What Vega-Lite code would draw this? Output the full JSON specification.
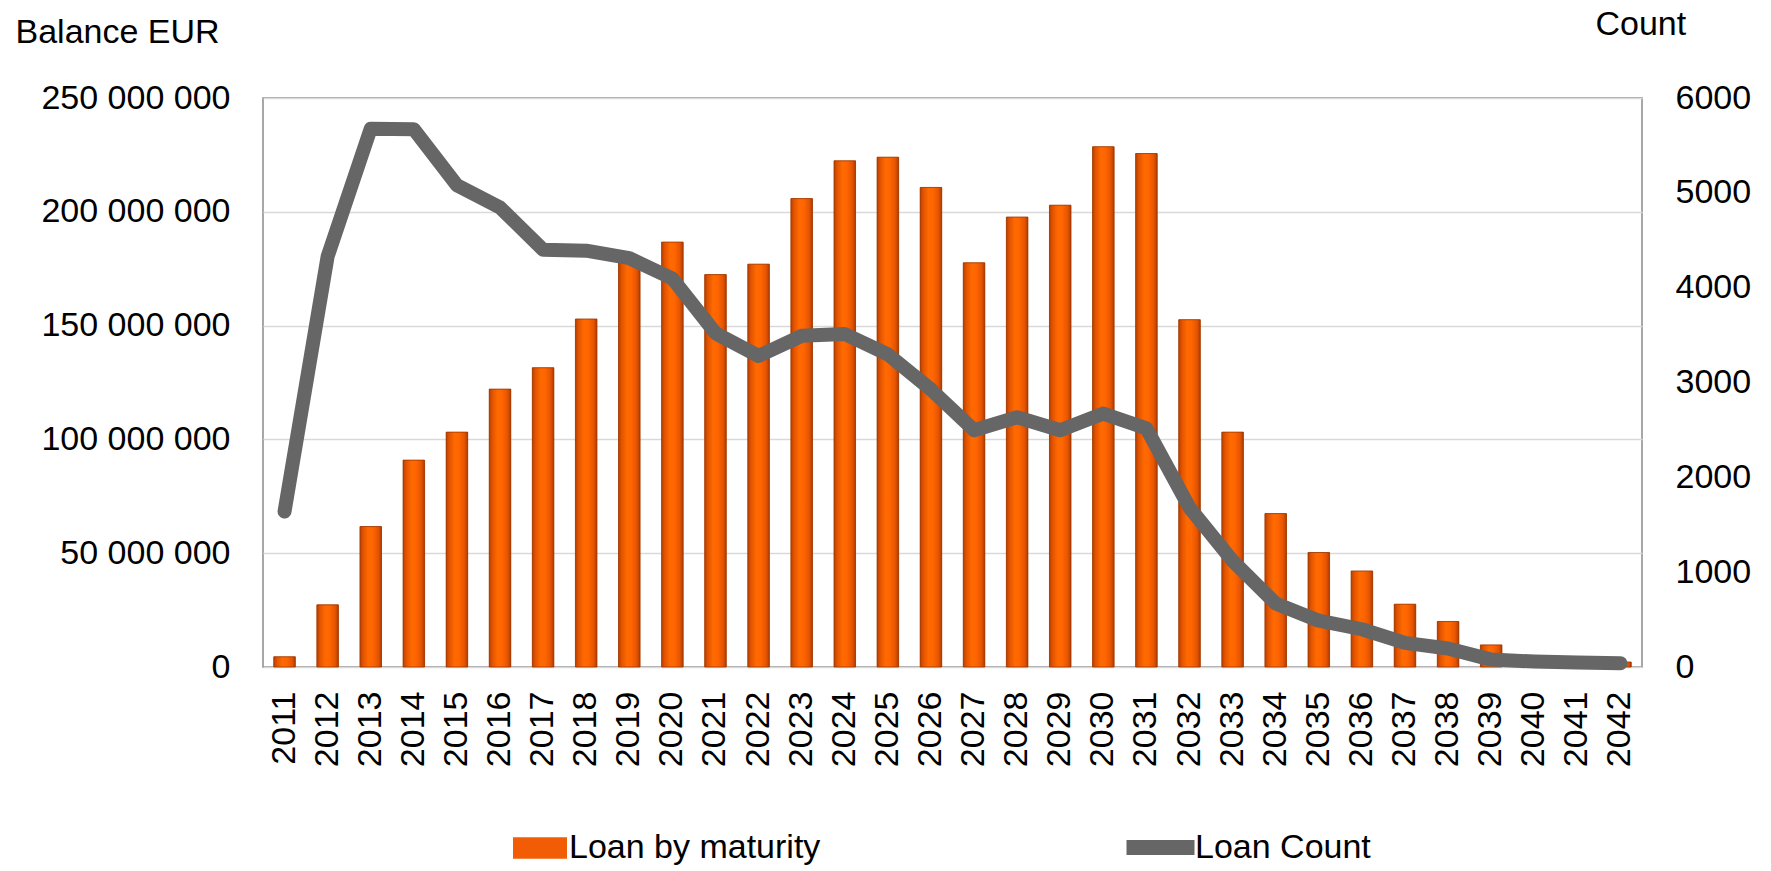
{
  "$schema": "https://vega.github.io/schema/vega-lite/v6.json",
  "width": 1379,
  "height": 569,
  "autosize": {"type": "none"},
  "padding": {"left": 263, "top": 98, "right": 129, "bottom": 204},
  "background": "white",
  "config": {
    "locale": {"number": {"decimal": ".", "thousands": " ", "grouping": [3], "currency": ["", ""]}},
    "font": "Liberation Sans",
    "view": {"stroke": "#8A8A8A", "strokeWidth": 1.5},
    "axis": {
      "labelFont": "Liberation Sans",
      "titleFont": "Liberation Sans",
      "labelFontSize": 34,
      "titleFontSize": 34,
      "labelColor": "#000000",
      "titleColor": "#000000",
      "titleFontWeight": "normal",
      "labelLimit": 400,
      "domain": false,
      "ticks": false
    },
    "legend": {
      "labelFont": "Liberation Sans",
      "labelFontSize": 34,
      "labelColor": "#000000",
      "labelLimit": 500
    }
  },
  "data": {
    "values": [
      {"year": "2011", "balance": 4500000, "count": 1640},
      {"year": "2012", "balance": 27300000, "count": 4330},
      {"year": "2013", "balance": 61700000, "count": 5677},
      {"year": "2014", "balance": 90900000, "count": 5670},
      {"year": "2015", "balance": 103200000, "count": 5080},
      {"year": "2016", "balance": 122100000, "count": 4846},
      {"year": "2017", "balance": 131500000, "count": 4401},
      {"year": "2018", "balance": 152900000, "count": 4390},
      {"year": "2019", "balance": 178000000, "count": 4311},
      {"year": "2020", "balance": 186700000, "count": 4097},
      {"year": "2021", "balance": 172400000, "count": 3520},
      {"year": "2022", "balance": 177000000, "count": 3280},
      {"year": "2023", "balance": 205800000, "count": 3492},
      {"year": "2024", "balance": 222400000, "count": 3511},
      {"year": "2025", "balance": 224000000, "count": 3297},
      {"year": "2026", "balance": 210700000, "count": 2926},
      {"year": "2027", "balance": 177600000, "count": 2497},
      {"year": "2028", "balance": 197700000, "count": 2634},
      {"year": "2029", "balance": 202900000, "count": 2497},
      {"year": "2030", "balance": 228600000, "count": 2673},
      {"year": "2031", "balance": 225600000, "count": 2517},
      {"year": "2032", "balance": 152600000, "count": 1680},
      {"year": "2033", "balance": 103200000, "count": 1120},
      {"year": "2034", "balance": 67400000, "count": 670},
      {"year": "2035", "balance": 50300000, "count": 488},
      {"year": "2036", "balance": 42200000, "count": 398},
      {"year": "2037", "balance": 27600000, "count": 254},
      {"year": "2038", "balance": 20000000, "count": 195},
      {"year": "2039", "balance": 9700000, "count": 78},
      {"year": "2040", "balance": 4000000, "count": 58},
      {"year": "2041", "balance": 1500000, "count": 47},
      {"year": "2042", "balance": 2200000, "count": 40}
    ]
  },
  "layer": [
    {
      "layer": [
        {
          "mark": {"type": "bar"},
          "encoding": {
            "x": {
              "field": "year",
              "type": "ordinal",
              "scale": {"paddingInner": 0.5, "paddingOuter": 0.25},
              "axis": {"title": null, "labelAngle": -90, "labelPadding": 24, "labelOverlap": false, "grid": false}
            },
            "y": {
              "field": "balance",
              "type": "quantitative",
              "scale": {"domain": [0, 250000000], "nice": false},
              "axis": {
                "orient": "left",
                "values": [0, 50000000, 100000000, 150000000, 200000000, 250000000],
                "format": ",d",
                "title": "Balance EUR",
                "titleAngle": 0,
                "titleAlign": "left",
                "titleBaseline": "alphabetic",
                "titleX": -248,
                "titleY": -56,
                "labelPadding": 33,
                "grid": true,
                "gridColor": "#D9D9D9",
                "gridWidth": 1.5
              }
            },
            "fill": {
              "datum": "Loan by maturity",
              "scale": {"range": ["#F25C05"]},
              "legend": {
                "title": null,
                "orient": "none",
                "legendX": 250,
                "legendY": 723,
                "symbolType": "M-1,-0.4L1,-0.4L1,0.4L-1,0.4Z",
                "symbolSize": 2916,
                "symbolStrokeWidth": 0,
                "labelOffset": 2
              }
            }
          }
        },
        {
          "mark": {
            "type": "bar",
            "color": {
              "gradient": "linear",
              "x1": 0, "y1": 0, "x2": 1, "y2": 0,
              "stops": [
                {"offset": 0, "color": "#B84000"},
                {"offset": 0.15, "color": "#E45400"},
                {"offset": 0.4, "color": "#FF6A00"},
                {"offset": 0.6, "color": "#FF6500"},
                {"offset": 0.85, "color": "#E45400"},
                {"offset": 1, "color": "#AE3C00"}
              ]
            },
            "stroke": "#9A3600",
            "strokeWidth": 0.8
          },
          "encoding": {
            "x": {"field": "year", "type": "ordinal"},
            "y": {"field": "balance", "type": "quantitative"}
          }
        }
      ]
    },
    {
      "mark": {"type": "line", "strokeWidth": 14, "strokeCap": "round", "strokeJoin": "round"},
      "encoding": {
        "x": {"field": "year", "type": "ordinal"},
        "y": {
          "field": "count",
          "type": "quantitative",
          "scale": {"domain": [0, 6000], "nice": false},
          "axis": {
            "orient": "right",
            "values": [0, 1000, 2000, 3000, 4000, 5000, 6000],
            "format": "d",
            "title": "Count",
            "titleAngle": 0,
            "titleAlign": "left",
            "titleBaseline": "alphabetic",
            "titleX": -47,
            "titleY": -64,
            "labelPadding": 33,
            "grid": false
          }
        },
        "stroke": {
          "datum": "Loan Count",
          "scale": {"range": ["#666666"]},
          "legend": {
            "title": null,
            "orient": "none",
            "legendX": 856,
            "legendY": 708,
            "symbolType": "stroke",
            "symbolSize": 4624,
            "symbolStrokeWidth": 15,
            "labelOffset": -7
          }
        }
      }
    }
  ],
  "resolve": {"scale": {"y": "independent"}}
}
